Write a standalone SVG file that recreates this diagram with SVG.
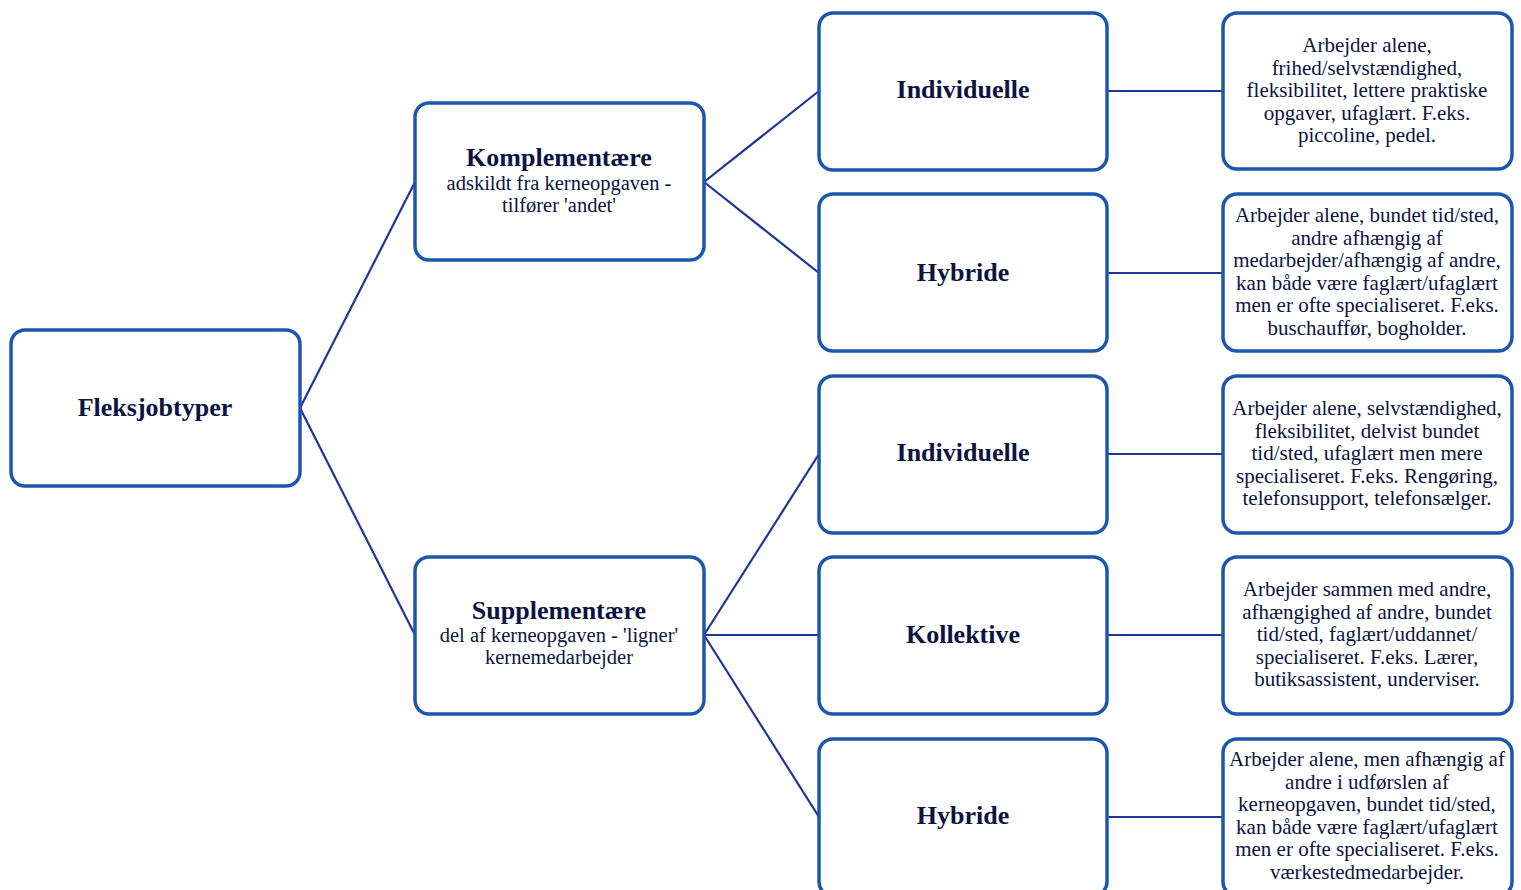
<svg xmlns="http://www.w3.org/2000/svg" width="1521" height="890" viewBox="0 0 1521 890">
<style>
.box{fill:#fff;stroke:#1d56ad;stroke-width:3.5}
.con{stroke:#1c3596;stroke-width:2.2;fill:none}
.t{font-family:"Liberation Serif",serif;font-weight:bold;font-size:26px;fill:#0b1342;text-anchor:middle}
.s{font-family:"Liberation Serif",serif;font-size:20.5px;fill:#0b1342;text-anchor:middle}
.d{font-family:"Liberation Serif",serif;font-size:21px;fill:#0b1342;text-anchor:middle}
</style>
<rect width="1521" height="890" fill="#fff"/>
<g id="connectors">
<line class="con" x1="300" y1="408" x2="415" y2="182"/>
<line class="con" x1="300" y1="408" x2="415" y2="635"/>
<line class="con" x1="704" y1="182" x2="819" y2="91"/>
<line class="con" x1="704" y1="182" x2="819" y2="273"/>
<line class="con" x1="704" y1="635" x2="819" y2="454"/>
<line class="con" x1="704" y1="635" x2="819" y2="635"/>
<line class="con" x1="704" y1="635" x2="819" y2="817"/>
<line class="con" x1="1107" y1="91" x2="1223" y2="91"/>
<line class="con" x1="1107" y1="273" x2="1223" y2="273"/>
<line class="con" x1="1107" y1="454" x2="1223" y2="454"/>
<line class="con" x1="1107" y1="635" x2="1223" y2="635"/>
<line class="con" x1="1107" y1="817" x2="1223" y2="817"/>
</g>
<g id="root">
<rect class="box" x="11" y="330" width="289" height="156" rx="14"/>
<text class="t" x="155" y="416">Fleksjobtyper</text>
</g>
<g id="komplementaere">
<rect class="box" x="415" y="103" width="289" height="157" rx="14"/>
<text class="t" x="559" y="166">Komplementære</text>
<text class="s" x="559" y="190">adskildt fra kerneopgaven -</text>
<text class="s" x="559" y="212">tilfører 'andet'</text>
</g>
<g id="supplementaere">
<rect class="box" x="415" y="557" width="289" height="157" rx="14"/>
<text class="t" x="559" y="619">Supplementære</text>
<text class="s" x="559" y="642">del af kerneopgaven - 'ligner'</text>
<text class="s" x="559" y="664">kernemedarbejder</text>
</g>
<g id="k-individuelle">
<rect class="box" x="819" y="13" width="288" height="157" rx="14"/>
<text class="t" x="963" y="98">Individuelle</text>
</g>
<g id="k-hybride">
<rect class="box" x="819" y="194" width="288" height="157" rx="14"/>
<text class="t" x="963" y="281">Hybride</text>
</g>
<g id="s-individuelle">
<rect class="box" x="819" y="376" width="288" height="157" rx="14"/>
<text class="t" x="963" y="461">Individuelle</text>
</g>
<g id="s-kollektive">
<rect class="box" x="819" y="557" width="288" height="157" rx="14"/>
<text class="t" x="963" y="643">Kollektive</text>
</g>
<g id="s-hybride">
<rect class="box" x="819" y="739" width="288" height="157" rx="14"/>
<text class="t" x="963" y="824">Hybride</text>
</g>
<g id="d1">
<rect class="box" x="1223" y="13" width="289" height="156" rx="14"/>
<text class="d" x="1367" y="52">Arbejder alene,</text>
<text class="d" x="1367" y="74.5">frihed/selvstændighed,</text>
<text class="d" x="1367" y="97">fleksibilitet, lettere praktiske</text>
<text class="d" x="1367" y="119.5">opgaver, ufaglært. F.eks.</text>
<text class="d" x="1367" y="142">piccoline, pedel.</text>
</g>
<g id="d2">
<rect class="box" x="1223" y="194" width="289" height="157" rx="14"/>
<text class="d" x="1367" y="222">Arbejder alene, bundet tid/sted,</text>
<text class="d" x="1367" y="244.5">andre afhængig af</text>
<text class="d" x="1367" y="267">medarbejder/afhængig af andre,</text>
<text class="d" x="1367" y="289.5">kan både være faglært/ufaglært</text>
<text class="d" x="1367" y="312">men er ofte specialiseret. F.eks.</text>
<text class="d" x="1367" y="334.5">buschauffør, bogholder.</text>
</g>
<g id="d3">
<rect class="box" x="1223" y="376" width="289" height="157" rx="14"/>
<text class="d" x="1367" y="415">Arbejder alene, selvstændighed,</text>
<text class="d" x="1367" y="437.5">fleksibilitet, delvist bundet</text>
<text class="d" x="1367" y="460">tid/sted, ufaglært men mere</text>
<text class="d" x="1367" y="482.5">specialiseret. F.eks. Rengøring,</text>
<text class="d" x="1367" y="505">telefonsupport, telefonsælger.</text>
</g>
<g id="d4">
<rect class="box" x="1223" y="557" width="289" height="157" rx="14"/>
<text class="d" x="1367" y="596">Arbejder sammen med andre,</text>
<text class="d" x="1367" y="618.5">afhængighed af andre, bundet</text>
<text class="d" x="1367" y="641">tid/sted, faglært/uddannet/</text>
<text class="d" x="1367" y="663.5">specialiseret. F.eks. Lærer,</text>
<text class="d" x="1367" y="686">butiksassistent, underviser.</text>
</g>
<g id="d5">
<rect class="box" x="1223" y="739" width="289" height="157" rx="14"/>
<text class="d" x="1367" y="766">Arbejder alene, men afhængig af</text>
<text class="d" x="1367" y="788.5">andre i udførslen af</text>
<text class="d" x="1367" y="811">kerneopgaven, bundet tid/sted,</text>
<text class="d" x="1367" y="833.5">kan både være faglært/ufaglært</text>
<text class="d" x="1367" y="856">men er ofte specialiseret. F.eks.</text>
<text class="d" x="1367" y="878.5">værkestedmedarbejder.</text>
</g>
</svg>
